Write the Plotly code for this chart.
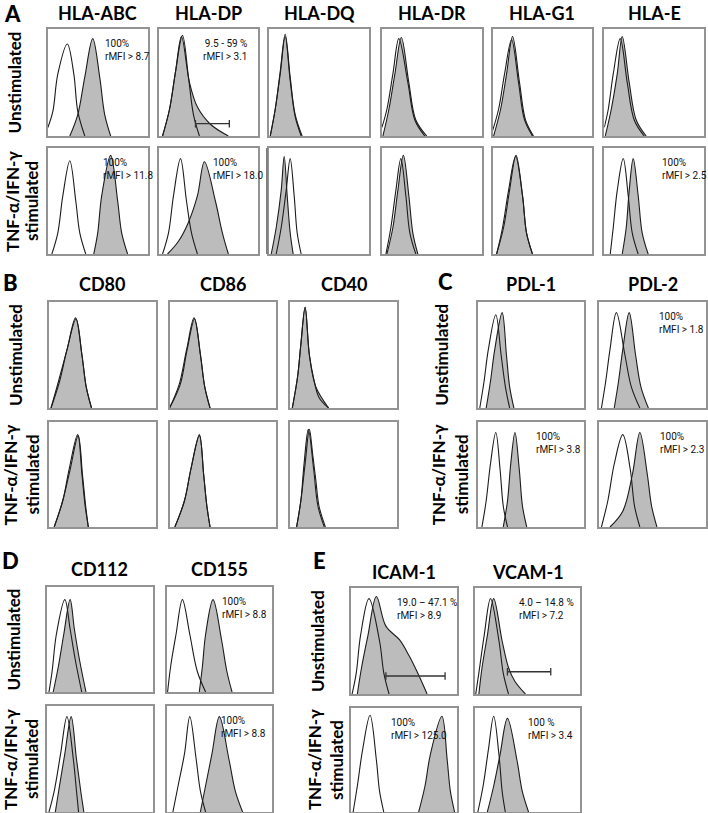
import plotly.graph_objects as go

# ======================= DATA =======================
# x = relative log-fluorescence position inside a histogram box (0-1)
# y = relative event count (0-1)
A_markers = ["HLA-ABC", "HLA-DP", "HLA-DQ", "HLA-DR", "HLA-G1", "HLA-E"]
B_markers = ["CD80", "CD86", "CD40"]
C_markers = ["PDL-1", "PDL-2"]
D_markers = ["CD112", "CD155"]
E_markers = ["ICAM-1", "VCAM-1"]
row_label_unstim = "Unstimulated"
row_label_stim = ["TNF-α/IFN-γ", "stimulated"]

# isotype control (open) and stained (grey) histograms, one entry per marker
A_unstim_iso = [
    [(0.0, 0.08), (0.05, 0.23), (0.10, 0.58), (0.195, 0.86), (0.26, 0.58), (0.30, 0.23), (0.37, 0)],
    [(0.04, 0), (0.11, 0.25), (0.17, 0.6), (0.24, 0.94), (0.30, 0.55), (0.35, 0.2), (0.41, 0)],
    [(0.01, 0), (0.06, 0.25), (0.11, 0.6), (0.16, 0.95), (0.21, 0.55), (0.26, 0.2), (0.33, 0)],
    [(0.0, 0.08), (0.05, 0.25), (0.11, 0.58), (0.17, 0.91), (0.26, 0.5), (0.33, 0.15), (0.43, 0)],
    [(0.0, 0.05), (0.06, 0.25), (0.12, 0.58), (0.19, 0.9), (0.26, 0.5), (0.32, 0.15), (0.40, 0)],
    [(0.0, 0.08), (0.04, 0.25), (0.09, 0.58), (0.16, 0.91), (0.23, 0.5), (0.30, 0.15), (0.40, 0)],
]
A_unstim_stain = [
    [(0.22, 0), (0.30, 0.2), (0.37, 0.55), (0.45, 0.91), (0.52, 0.55), (0.57, 0.2), (0.63, 0)],
    [(0.04, 0), (0.11, 0.25), (0.17, 0.6), (0.23, 0.93), (0.31, 0.5), (0.39, 0.27), (0.52, 0.11), (0.70, 0)],
    [(0.01, 0), (0.06, 0.25), (0.11, 0.58), (0.16, 0.93), (0.21, 0.52), (0.26, 0.18), (0.32, 0)],
    [(0.01, 0), (0.07, 0.25), (0.13, 0.58), (0.195, 0.92), (0.27, 0.5), (0.34, 0.15), (0.45, 0)],
    [(0.01, 0), (0.08, 0.25), (0.14, 0.58), (0.20, 0.93), (0.27, 0.5), (0.33, 0.15), (0.41, 0)],
    [(0.01, 0), (0.07, 0.25), (0.13, 0.58), (0.18, 0.93), (0.25, 0.5), (0.32, 0.15), (0.42, 0)],
]
A_stim_iso = [
    [(0.04, 0), (0.10, 0.2), (0.15, 0.55), (0.22, 0.88), (0.28, 0.5), (0.32, 0.2), (0.38, 0)],
    [(0.04, 0), (0.10, 0.2), (0.15, 0.55), (0.22, 0.9), (0.28, 0.5), (0.33, 0.2), (0.39, 0)],
    [(0.07, 0), (0.12, 0.25), (0.17, 0.6), (0.21, 0.9), (0.25, 0.55), (0.28, 0.2), (0.32, 0)],
    [(0.04, 0), (0.09, 0.25), (0.14, 0.6), (0.19, 0.9), (0.24, 0.55), (0.28, 0.2), (0.34, 0)],
    [(0.04, 0), (0.10, 0.25), (0.16, 0.6), (0.23, 0.92), (0.30, 0.55), (0.34, 0.2), (0.40, 0)],
    [(0.06, 0), (0.09, 0.25), (0.13, 0.6), (0.19, 0.9), (0.24, 0.55), (0.28, 0.2), (0.34, 0)],
]
A_stim_stain = [
    [(0.46, 0), (0.50, 0.2), (0.54, 0.55), (0.63, 0.93), (0.70, 0.5), (0.74, 0.2), (0.80, 0)],
    [(0.09, 0), (0.20, 0.12), (0.30, 0.3), (0.39, 0.55), (0.46, 0.87), (0.57, 0.5), (0.64, 0.2), (0.70, 0)],
    [(0.02, 0), (0.07, 0.25), (0.12, 0.6), (0.15, 0.92), (0.18, 0.55), (0.21, 0.2), (0.24, 0)],
    [(0.05, 0), (0.11, 0.25), (0.16, 0.6), (0.215, 0.93), (0.27, 0.55), (0.31, 0.2), (0.36, 0)],
    [(0.04, 0), (0.11, 0.25), (0.17, 0.6), (0.235, 0.93), (0.30, 0.55), (0.34, 0.2), (0.40, 0)],
    [(0.18, 0), (0.22, 0.25), (0.25, 0.6), (0.29, 0.9), (0.34, 0.55), (0.38, 0.2), (0.44, 0)],
]
B_unstim_iso = [
    [(0.02, 0), (0.09, 0.25), (0.17, 0.55), (0.25, 0.85), (0.31, 0.5), (0.35, 0.2), (0.40, 0)],
    [(0.0, 0), (0.09, 0.22), (0.16, 0.55), (0.23, 0.85), (0.29, 0.5), (0.33, 0.2), (0.38, 0)],
    [(0.02, 0), (0.07, 0.3), (0.10, 0.6), (0.14, 0.95), (0.18, 0.5), (0.22, 0.28), (0.27, 0.1), (0.36, 0)],
]
B_unstim_stain = [
    [(0.02, 0), (0.10, 0.25), (0.17, 0.55), (0.255, 0.84), (0.31, 0.5), (0.35, 0.2), (0.40, 0)],
    [(0.0, 0), (0.10, 0.22), (0.165, 0.55), (0.235, 0.84), (0.29, 0.5), (0.33, 0.2), (0.38, 0)],
    [(0.02, 0), (0.07, 0.3), (0.10, 0.6), (0.14, 0.95), (0.18, 0.5), (0.24, 0.2), (0.36, 0)],
]
B_stim_iso = [
    [(0.05, 0), (0.13, 0.25), (0.19, 0.55), (0.27, 0.88), (0.31, 0.5), (0.34, 0.2), (0.37, 0)],
    [(0.05, 0), (0.14, 0.25), (0.20, 0.55), (0.28, 0.88), (0.32, 0.5), (0.35, 0.2), (0.38, 0)],
    [(0.06, 0), (0.10, 0.25), (0.14, 0.6), (0.18, 0.93), (0.21, 0.7), (0.24, 0.45), (0.27, 0.2), (0.33, 0)],
]
B_stim_stain = [
    [(0.05, 0), (0.13, 0.25), (0.20, 0.55), (0.275, 0.87), (0.315, 0.5), (0.345, 0.2), (0.37, 0)],
    [(0.05, 0), (0.14, 0.25), (0.20, 0.55), (0.28, 0.87), (0.32, 0.5), (0.35, 0.2), (0.38, 0)],
    [(0.06, 0), (0.10, 0.25), (0.13, 0.6), (0.17, 0.93), (0.22, 0.55), (0.26, 0.2), (0.32, 0)],
]
C_unstim_iso = [
    [(0.02, 0), (0.06, 0.25), (0.10, 0.55), (0.17, 0.88), (0.22, 0.5), (0.26, 0.2), (0.30, 0)],
    [(0.02, 0), (0.06, 0.25), (0.10, 0.55), (0.16, 0.9), (0.24, 0.5), (0.30, 0.2), (0.38, 0)],
]
C_unstim_stain = [
    [(0.08, 0), (0.12, 0.25), (0.16, 0.55), (0.23, 0.9), (0.27, 0.5), (0.30, 0.2), (0.34, 0)],
    [(0.14, 0), (0.18, 0.25), (0.22, 0.55), (0.28, 0.9), (0.34, 0.5), (0.39, 0.2), (0.46, 0)],
]
C_stim_iso = [
    [(0.04, 0), (0.08, 0.25), (0.12, 0.6), (0.17, 0.9), (0.21, 0.55), (0.24, 0.2), (0.28, 0)],
    [(0.02, 0), (0.08, 0.25), (0.14, 0.6), (0.22, 0.88), (0.29, 0.55), (0.33, 0.2), (0.38, 0)],
]
C_stim_stain = [
    [(0.24, 0), (0.28, 0.25), (0.31, 0.6), (0.35, 0.9), (0.39, 0.55), (0.42, 0.2), (0.46, 0)],
    [(0.10, 0), (0.22, 0.15), (0.31, 0.5), (0.38, 0.9), (0.45, 0.5), (0.49, 0.2), (0.54, 0)],
]
D_unstim_iso = [
    [(0.02, 0), (0.05, 0.2), (0.09, 0.55), (0.17, 0.88), (0.22, 0.6), (0.27, 0.3), (0.33, 0)],
    [(0.01, 0), (0.04, 0.25), (0.09, 0.55), (0.15, 0.88), (0.22, 0.55), (0.29, 0.2), (0.37, 0)],
]
D_unstim_stain = [
    [(0.06, 0), (0.11, 0.25), (0.16, 0.55), (0.22, 0.88), (0.26, 0.6), (0.31, 0.3), (0.37, 0)],
    [(0.31, 0), (0.34, 0.25), (0.37, 0.55), (0.44, 0.88), (0.52, 0.5), (0.57, 0.2), (0.62, 0)],
]
D_stim_iso = [
    [(0.02, 0), (0.07, 0.2), (0.13, 0.55), (0.19, 0.9), (0.25, 0.5), (0.28, 0.2), (0.30, 0)],
    [(0.06, 0), (0.11, 0.25), (0.17, 0.55), (0.22, 0.9), (0.28, 0.5), (0.32, 0.2), (0.37, 0)],
]
D_stim_stain = [
    [(0.08, 0), (0.12, 0.25), (0.17, 0.55), (0.23, 0.9), (0.28, 0.5), (0.32, 0.2), (0.35, 0)],
    [(0.32, 0), (0.37, 0.25), (0.43, 0.55), (0.50, 0.9), (0.59, 0.5), (0.65, 0.2), (0.72, 0)],
]
E_unstim_iso = [
    [(0.01, 0), (0.05, 0.2), (0.09, 0.55), (0.17, 0.9), (0.27, 0.5), (0.31, 0.2), (0.36, 0)],
    [(0.01, 0), (0.04, 0.2), (0.09, 0.55), (0.15, 0.9), (0.23, 0.5), (0.27, 0.2), (0.32, 0)],
]
E_unstim_stain = [
    [(0.06, 0), (0.10, 0.25), (0.16, 0.55), (0.24, 0.92), (0.33, 0.64), (0.46, 0.51), (0.55, 0.36), (0.63, 0.2), (0.72, 0)],
    [(0.04, 0), (0.07, 0.25), (0.12, 0.55), (0.18, 0.9), (0.26, 0.5), (0.32, 0.25), (0.38, 0.12), (0.48, 0)],
]
E_stim_iso = [
    [(0.02, 0), (0.06, 0.25), (0.11, 0.6), (0.18, 0.93), (0.24, 0.5), (0.27, 0.2), (0.31, 0)],
    [(0.03, 0), (0.08, 0.25), (0.13, 0.6), (0.18, 0.92), (0.23, 0.55), (0.26, 0.2), (0.29, 0)],
]
E_stim_stain = [
    [(0.64, 0), (0.70, 0.25), (0.75, 0.55), (0.86, 0.92), (0.91, 0.5), (0.94, 0.2), (0.98, 0)],
    [(0.12, 0), (0.18, 0.25), (0.24, 0.55), (0.31, 0.9), (0.40, 0.5), (0.45, 0.2), (0.51, 0)],
]

# statistics printed in the boxes
A_unstim_text = ["100%<br>rMFI > 8.7", "9.5 - 59 %<br>rMFI > 3.1", "", "", "", ""]
A_stim_text = ["100%<br>rMFI > 11.8", "100%<br>rMFI > 18.0", "", "", "", "100%<br>rMFI > 2.5"]
B_unstim_text = ["", "", ""]
B_stim_text = ["", "", ""]
C_unstim_text = ["", "100%<br>rMFI > 1.8"]
C_stim_text = ["100%<br>rMFI > 3.8", "100%<br>rMFI > 2.3"]
D_unstim_text = ["", "100%<br>rMFI > 8.8"]
D_stim_text = ["", "100%<br>rMFI > 8.8"]
E_unstim_text = ["19.0 – 47.1 %<br>rMFI > 8.9", "4.0 – 14.8 %<br>rMFI > 7.2"]
E_stim_text = ["100%<br>rMFI > 125.0", "100 %<br>rMFI > 3.4"]

# positive gates (x start, x end, height)
A_unstim_gates = [None, (0.37, 0.71, 0.115), None, None, None, None]
E_unstim_gates = [(0.33, 0.89, 0.17), (0.31, 0.72, 0.21)]

# ======================= LAYOUT / STYLE =======================
W, H = 708, 813
BOX_COL = "#939393"
FILL_COL = "#bcbcbc"
LINE_COL = "#1c1c1c"
FONT = "Lato"

# pixel geometry of the panels
panels = [
    dict(letter="A", markers=A_markers, x0=[48, 159, 270, 383, 494, 606], w=100,
         rows=[(29, 136), (148, 254)], title_y=13, letter_xy=(13, 13),
         lab_x=(15, 13, 32),
         iso=[A_unstim_iso, A_stim_iso], stain=[A_unstim_stain, A_stim_stain],
         text=[A_unstim_text, A_stim_text], gates=[A_unstim_gates, None],
         text_x=[[0.55, 0.91, 0, 0, 0, 0], [0.53, 0.53, 0, 0, 0, 0.56]],
         text_align=[["left", "right", "", "", "", ""], ["left"] * 6]),
    dict(letter="B", markers=B_markers, x0=[49, 170, 291], w=107,
         rows=[(302, 408), (422, 527)], title_y=284, letter_xy=(11, 283),
         lab_x=(15, 11, 33),
         iso=[B_unstim_iso, B_stim_iso], stain=[B_unstim_stain, B_stim_stain],
         text=[B_unstim_text, B_stim_text], gates=[None, None],
         text_x=[[0, 0, 0], [0, 0, 0]], text_align=[["left"] * 3, ["left"] * 3]),
    dict(letter="C", markers=C_markers, x0=[479, 601], w=107,
         rows=[(302, 408), (422, 527)], title_y=284, letter_xy=(447, 282),
         lab_x=(442, 440, 463),
         iso=[C_unstim_iso, C_stim_iso], stain=[C_unstim_stain, C_stim_stain],
         text=[C_unstim_text, C_stim_text], gates=[None, None],
         text_x=[[0, 0.54], [0.53, 0.55]], text_align=[["left"] * 2, ["left"] * 2]),
    dict(letter="D", markers=D_markers, x0=[47, 167], w=106,
         rows=[(587, 692), (706, 812)], title_y=569, letter_xy=(11, 560),
         lab_x=(14, 10, 31),
         iso=[D_unstim_iso, D_stim_iso], stain=[D_unstim_stain, D_stim_stain],
         text=[D_unstim_text, D_stim_text], gates=[None, None],
         text_x=[[0, 0.51], [0, 0.50]], text_align=[["left"] * 2, ["left"] * 2]),
    dict(letter="E", markers=E_markers, x0=[352, 476], w=106,
         rows=[(588, 694), (708, 812)], title_y=572, letter_xy=(320, 560),
         lab_x=(318, 315, 337),
         iso=[E_unstim_iso, E_stim_iso], stain=[E_unstim_stain, E_stim_stain],
         text=[E_unstim_text, E_stim_text], gates=[E_unstim_gates, None],
         text_x=[[0.42, 0.40], [0.36, 0.49]], text_align=[["left"] * 2, ["left"] * 2]),
]

fig = go.Figure()
annotations = []
layout_axes = {}
idx = 0


def xy_of(points):
    return [p[0] for p in points], [p[1] for p in points]


for pan in panels:
    # panel letter
    annotations.append(dict(text=pan["letter"], x=pan["letter_xy"][0] / W, y=1 - pan["letter_xy"][1] / H,
                            xref="paper", yref="paper", showarrow=False, xanchor="center", yanchor="middle",
                            font=dict(family=FONT, size=22, color="black", weight=900)))
    # row labels
    (ra0, ra1), (rb0, rb1) = pan["rows"]
    annotations.append(dict(text=row_label_unstim, x=pan["lab_x"][0] / W, y=1 - (ra0 + ra1) / 2 / H,
                            xref="paper", yref="paper", showarrow=False, textangle=-90,
                            xanchor="center", yanchor="middle",
                            font=dict(family=FONT, size=17, color="black", weight="bold")))
    for li, line in enumerate(row_label_stim):
        annotations.append(dict(text=line, x=pan["lab_x"][1 + li] / W, y=1 - (rb0 + rb1) / 2 / H,
                                xref="paper", yref="paper", showarrow=False, textangle=-90,
                                xanchor="center", yanchor="middle",
                                font=dict(family=FONT, size=17, color="black", weight="bold")))
    for ci, marker in enumerate(pan["markers"]):
        bx0 = pan["x0"][ci]
        bx1 = bx0 + pan["w"]
        annotations.append(dict(text=marker, x=(bx0 + bx1) / 2 / W, y=1 - pan["title_y"] / H,
                                xref="paper", yref="paper", showarrow=False, xanchor="center",
                                yanchor="middle",
                                font=dict(family=FONT, size=18, color="black", weight="bold")))
        for ri, (ry0, ry1) in enumerate(pan["rows"]):
            idx += 1
            xn = "x" if idx == 1 else f"x{idx}"
            yn = "y" if idx == 1 else f"y{idx}"
            ax_common = dict(range=[0, 1], showgrid=False, zeroline=False, showticklabels=False,
                             ticks="", showline=True, linecolor=BOX_COL, linewidth=1.6, mirror=True,
                             fixedrange=True)
            layout_axes[f"xaxis{idx}"] = dict(domain=[bx0 / W, bx1 / W], anchor=yn, **ax_common)
            layout_axes[f"yaxis{idx}"] = dict(domain=[1 - ry1 / H, 1 - ry0 / H], anchor=xn, **ax_common)

            sx, sy = xy_of(pan["stain"][ri][ci])
            fig.add_trace(go.Scatter(x=sx, y=sy, xaxis=xn, yaxis=yn, mode="lines", fill="toself",
                                     fillcolor=FILL_COL, line=dict(color=LINE_COL, width=1.1, shape="spline"),
                                     hoverinfo="skip", showlegend=False))
            ix, iy = xy_of(pan["iso"][ri][ci])
            fig.add_trace(go.Scatter(x=ix, y=iy, xaxis=xn, yaxis=yn, mode="lines",
                                     line=dict(color=LINE_COL, width=1.1, shape="spline"),
                                     hoverinfo="skip", showlegend=False))
            gates = pan["gates"][ri]
            if gates and gates[ci]:
                g0, g1, gy = gates[ci]
                fig.add_trace(go.Scatter(x=[g0, g1, None, g0, g0, None, g1, g1],
                                         y=[gy, gy, None, gy - 0.035, gy + 0.035, None, gy - 0.035, gy + 0.035],
                                         xaxis=xn, yaxis=yn, mode="lines",
                                         line=dict(color="#333333", width=1.3),
                                         hoverinfo="skip", showlegend=False))
            txt = pan["text"][ri][ci]
            if txt:
                al = pan["text_align"][ri][ci]
                annotations.append(dict(text=txt, x=pan["text_x"][ri][ci], y=0.935, xref=xn, yref=yn,
                                        showarrow=False, xanchor=al, yanchor="top", align=al,
                                        font=dict(family="Roboto", size=10, color="#111111")))

# small extra vertical stroke left of the HLA-DQ stimulated box
shapes = [dict(type="line", xref="paper", yref="paper", x0=267.5 / W, x1=267.5 / W,
               y0=1 - 254 / H, y1=1 - 148 / H, line=dict(color="#555555", width=1))]

fig.update_layout(width=W, height=H, margin=dict(l=0, r=0, t=0, b=0),
                  paper_bgcolor="white", plot_bgcolor="white",
                  annotations=annotations, shapes=shapes, **layout_axes)
fig.write_html("out.html", config={"displayModeBar": False},
               post_script="document.body.style.margin='0';document.body.style.overflow='hidden';")
